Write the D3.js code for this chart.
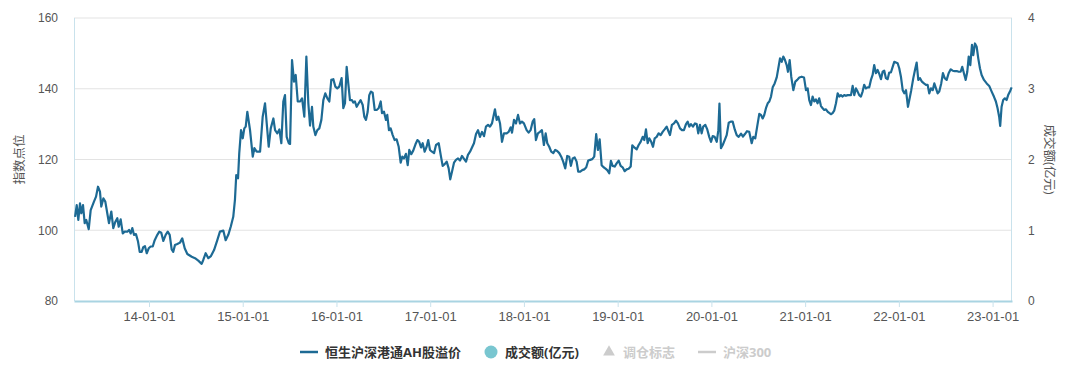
<!DOCTYPE html>
<html>
<head>
<meta charset="utf-8">
<script src="https://cdn.jsdelivr.net/npm/d3@7"></script>
<style>
  body { margin: 0; background: #fff; }
  svg { display: block; font-family: "Open Sans", "Noto Sans CJK SC", sans-serif; }
</style>
</head>
<body>
<div id="chart"></div>
<script>
// time as decimal years
const times = [
  2013.211, 2013.229, 2013.246, 2013.264, 2013.278, 2013.296, 2013.314, 2013.331, 2013.357, 2013.378,
  2013.413, 2013.435, 2013.456, 2013.477, 2013.491, 2013.513, 2013.534, 2013.555, 2013.573, 2013.598,
  2013.619, 2013.641, 2013.662, 2013.677, 2013.698, 2013.720, 2013.741, 2013.769, 2013.787, 2013.805,
  2013.822, 2013.840, 2013.861, 2013.883, 2013.901, 2013.922, 2013.939, 2013.957, 2013.976, 2013.997,
  2014.018, 2014.040, 2014.061, 2014.089, 2014.110, 2014.131, 2014.153, 2014.178, 2014.200, 2014.221,
  2014.242, 2014.259, 2014.277, 2014.302, 2014.331, 2014.355, 2014.381, 2014.409, 2014.456, 2014.491,
  2014.526, 2014.562, 2014.579, 2014.605, 2014.633, 2014.661, 2014.694, 2014.729, 2014.757, 2014.793,
  2014.818, 2014.846, 2014.872, 2014.899, 2014.917, 2014.931, 2014.950, 2014.963, 2014.982, 2015.000,
  2015.017, 2015.032, 2015.049, 2015.078, 2015.107, 2015.124, 2015.149, 2015.185, 2015.213, 2015.238,
  2015.256, 2015.277, 2015.299, 2015.327, 2015.345, 2015.369, 2015.391, 2015.412, 2015.433, 2015.451,
  2015.469, 2015.491, 2015.505, 2015.526, 2015.547, 2015.565, 2015.587, 2015.611, 2015.633, 2015.657,
  2015.679, 2015.700, 2015.718, 2015.739, 2015.753, 2015.775, 2015.796, 2015.817, 2015.839, 2015.860,
  2015.881, 2015.903, 2015.924, 2015.945, 2015.967, 2015.988, 2016.009, 2016.030, 2016.055, 2016.073,
  2016.091, 2016.109, 2016.126, 2016.144, 2016.165, 2016.179, 2016.197, 2016.216, 2016.237, 2016.258,
  2016.280, 2016.297, 2016.315, 2016.333, 2016.350, 2016.368, 2016.386, 2016.408, 2016.429, 2016.450,
  2016.472, 2016.486, 2016.507, 2016.528, 2016.542, 2016.560, 2016.578, 2016.600, 2016.621, 2016.642,
  2016.664, 2016.685, 2016.702, 2016.720, 2016.741, 2016.760, 2016.777, 2016.798, 2016.819, 2016.843,
  2016.864, 2016.883, 2016.902, 2016.920, 2016.941, 2016.962, 2016.979, 2016.998, 2017.019, 2017.041,
  2017.062, 2017.091, 2017.112, 2017.133, 2017.155, 2017.176, 2017.197, 2017.214, 2017.233, 2017.254,
  2017.275, 2017.297, 2017.318, 2017.339, 2017.361, 2017.382, 2017.403, 2017.425, 2017.446, 2017.467,
  2017.489, 2017.510, 2017.531, 2017.553, 2017.574, 2017.595, 2017.617, 2017.638, 2017.659, 2017.691,
  2017.709, 2017.727, 2017.745, 2017.766, 2017.787, 2017.816, 2017.837, 2017.859, 2017.873, 2017.894,
  2017.915, 2017.937, 2017.958, 2017.979, 2018.000, 2018.029, 2018.050, 2018.071, 2018.093, 2018.110,
  2018.128, 2018.149, 2018.171, 2018.192, 2018.213, 2018.232, 2018.249, 2018.270, 2018.291, 2018.313,
  2018.334, 2018.355, 2018.377, 2018.398, 2018.419, 2018.441, 2018.462, 2018.483, 2018.501, 2018.520,
  2018.541, 2018.562, 2018.579, 2018.601, 2018.622, 2018.643, 2018.665, 2018.686, 2018.707, 2018.729,
  2018.750, 2018.771, 2018.789, 2018.808, 2018.829, 2018.850, 2018.867, 2018.889, 2018.910, 2018.928,
  2018.946, 2018.968, 2018.989, 2019.011, 2019.032, 2019.053, 2019.075, 2019.096, 2019.117, 2019.139,
  2019.156, 2019.177, 2019.203, 2019.224, 2019.245, 2019.267, 2019.284, 2019.302, 2019.320, 2019.337,
  2019.358, 2019.377, 2019.395, 2019.416, 2019.437, 2019.459, 2019.480, 2019.501, 2019.523, 2019.544,
  2019.558, 2019.579, 2019.601, 2019.622, 2019.643, 2019.665, 2019.686, 2019.707, 2019.729, 2019.747,
  2019.764, 2019.782, 2019.803, 2019.825, 2019.843, 2019.860, 2019.878, 2019.896, 2019.913, 2019.935,
  2019.956, 2019.977, 2019.996, 2020.014, 2020.035, 2020.057, 2020.074, 2020.086, 2020.102, 2020.121,
  2020.142, 2020.163, 2020.185, 2020.206, 2020.227, 2020.249, 2020.270, 2020.291, 2020.316, 2020.337,
  2020.358, 2020.380, 2020.404, 2020.430, 2020.447, 2020.468, 2020.494, 2020.511, 2020.529, 2020.547,
  2020.564, 2020.582, 2020.601, 2020.618, 2020.636, 2020.654, 2020.675, 2020.697, 2020.714, 2020.732,
  2020.750, 2020.767, 2020.785, 2020.803, 2020.817, 2020.835, 2020.852, 2020.874, 2020.895, 2020.916,
  2020.938, 2020.963, 2020.988, 2021.009, 2021.027, 2021.044, 2021.062, 2021.080, 2021.097, 2021.115,
  2021.133, 2021.150, 2021.169, 2021.187, 2021.204, 2021.222, 2021.240, 2021.257, 2021.275, 2021.293,
  2021.310, 2021.329, 2021.347, 2021.364, 2021.382, 2021.400, 2021.417, 2021.435, 2021.453, 2021.470,
  2021.489, 2021.507, 2021.524, 2021.542, 2021.560, 2021.577, 2021.595, 2021.613, 2021.630, 2021.649,
  2021.667, 2021.684, 2021.702, 2021.720, 2021.737, 2021.755, 2021.773, 2021.791, 2021.809, 2021.827,
  2021.844, 2021.862, 2021.880, 2021.897, 2021.915, 2021.934, 2021.951, 2021.969, 2021.987, 2022.004,
  2022.022, 2022.041, 2022.058, 2022.076, 2022.097, 2022.115, 2022.132, 2022.154, 2022.172, 2022.190,
  2022.207, 2022.225, 2022.246, 2022.268, 2022.289, 2022.307, 2022.324, 2022.342, 2022.361, 2022.378,
  2022.396, 2022.414, 2022.431, 2022.452, 2022.470, 2022.489, 2022.510, 2022.531, 2022.553, 2022.574,
  2022.595, 2022.617, 2022.638, 2022.659, 2022.676, 2022.694, 2022.713, 2022.730, 2022.745, 2022.762,
  2022.780, 2022.794, 2022.812, 2022.830, 2022.847, 2022.865, 2022.883, 2022.908, 2022.937, 2022.964,
  2022.990, 2023.014, 2023.035, 2023.053, 2023.070, 2023.081, 2023.096, 2023.113, 2023.131, 2023.149,
  2023.166, 2023.185, 2023.203
];

// 恒生沪深港通AH股溢价
const premium = [
  103.8, 107.1, 102.9, 107.6, 104.8, 107.1, 102.0, 102.9, 100.3, 105.7,
  108.1, 109.5, 112.3, 110.9, 106.7, 109.0, 108.1, 104.8, 102.0, 105.3,
  100.6, 102.4, 103.4, 101.0, 103.1, 99.1, 99.6, 99.6, 100.1, 99.1,
  100.6, 98.7, 98.9, 96.8, 93.9, 93.9, 95.2, 95.5, 93.5, 94.9,
  95.4, 95.4, 97.2, 98.7, 99.6, 99.3, 97.0, 98.7, 99.6, 98.7,
  94.6, 93.9, 95.8, 96.1, 96.5, 97.7, 94.9, 93.3, 92.5, 92.1,
  91.4, 90.5, 91.6, 93.5, 92.1, 92.7, 94.4, 97.2, 99.6, 99.9,
  97.2, 98.7, 101.0, 103.8, 108.6, 115.6, 114.7, 121.8, 128.3, 126.0,
  128.8, 129.3, 133.5, 128.3, 120.8, 123.2, 122.2, 122.2, 132.1, 135.9,
  130.2, 123.6, 128.8, 131.6, 128.3, 127.4, 128.5, 124.6, 136.4, 138.2,
  126.4, 124.6, 124.4, 148.1, 142.0, 143.9, 136.4, 136.4, 137.3, 132.1,
  149.1, 135.9, 129.6, 134.9, 129.3, 126.9, 128.3, 128.8, 131.2, 136.8,
  138.7, 137.3, 136.4, 142.5, 142.7, 140.6, 140.1, 140.6, 143.0, 134.5,
  135.9, 146.2, 141.5, 136.8, 136.8, 136.1, 136.4, 134.9, 135.9, 136.8,
  135.4, 132.1, 131.2, 133.5, 138.2, 139.2, 138.9, 134.0, 134.0, 134.5,
  136.4, 133.1, 133.5, 131.2, 132.6, 128.3, 128.8, 126.9, 125.5, 125.7,
  123.6, 119.1, 120.8, 120.3, 121.6, 118.4, 122.7, 121.5, 122.5, 124.3,
  125.5, 125.0, 123.4, 124.6, 122.2, 123.6, 125.5, 122.7, 122.2, 121.8,
  124.1, 124.6, 121.3, 118.2, 118.7, 119.4, 117.5, 114.4, 116.6, 119.1,
  119.9, 120.3, 119.7, 121.0, 120.2, 119.4, 121.3, 122.2, 123.4, 124.6,
  127.2, 128.3, 126.4, 127.8, 126.6, 129.3, 129.8, 129.3, 130.2, 134.2,
  131.2, 132.1, 130.2, 125.0, 127.4, 127.4, 127.8, 129.1, 127.6, 131.2,
  130.2, 132.6, 130.2, 130.7, 130.2, 128.3, 127.6, 128.3, 130.7, 131.4,
  125.5, 127.4, 127.8, 128.3, 124.1, 127.4, 124.6, 123.6, 122.2, 121.8,
  122.7, 122.4, 121.8, 120.8, 119.4, 117.5, 121.0, 120.8, 118.2, 120.3,
  120.6, 119.4, 116.6, 116.6, 117.0, 117.2, 117.8, 119.7, 119.9, 120.1,
  120.8, 127.2, 122.7, 125.7, 118.4, 117.8, 117.5, 117.0, 116.1, 119.6,
  118.2, 118.0, 118.9, 119.7, 118.2, 117.8, 116.7, 117.2, 117.4, 118.0,
  124.0, 123.4, 122.9, 124.1, 125.0, 126.4, 125.5, 128.5, 124.6, 126.0,
  125.0, 123.6, 126.0, 126.4, 127.4, 126.9, 127.8, 128.5, 129.3, 127.8,
  126.9, 129.8, 130.2, 131.0, 130.2, 128.8, 128.3, 128.3, 130.0, 130.7,
  129.3, 130.0, 129.3, 130.2, 130.0, 127.4, 129.8, 127.4, 129.3, 129.8,
  128.5, 126.4, 125.0, 126.6, 126.4, 125.0, 128.3, 135.8, 123.2, 124.1,
  125.5, 126.9, 130.4, 130.7, 130.7, 128.5, 126.9, 126.4, 127.3, 126.5,
  127.2, 128.0, 127.8, 124.6, 126.4, 126.0, 130.2, 132.9, 132.6, 131.6,
  132.6, 134.5, 135.9, 136.4, 137.8, 140.4, 141.5, 143.2, 145.8, 148.6,
  147.6, 149.1, 148.1, 146.7, 144.8, 148.1, 143.4, 139.6, 142.0, 142.5,
  143.2, 143.4, 143.2, 139.6, 140.1, 136.8, 135.4, 137.8, 136.4, 137.0,
  135.9, 137.3, 135.1, 134.5, 134.0, 134.2, 133.5, 133.2, 132.8, 133.1,
  133.8, 135.9, 138.7, 137.8, 138.2, 137.8, 138.2, 138.0, 138.2, 138.2,
  138.2, 140.8, 138.2, 140.1, 139.2, 138.2, 137.8, 139.2, 141.1, 140.1,
  140.4, 140.4, 142.5, 143.9, 146.7, 144.4, 145.3, 144.2, 142.7, 144.8,
  145.1, 143.0, 142.7, 144.6, 144.6, 146.2, 147.6, 147.4, 147.2, 145.8,
  143.4, 139.6, 138.7, 139.6, 134.9, 137.3, 139.6, 143.0, 145.3, 147.4,
  142.5, 143.0, 142.0, 141.5, 141.1, 141.1, 138.7, 140.1, 139.6, 141.5,
  140.1, 138.7, 139.2, 141.5, 144.4, 143.0, 142.5, 144.4, 145.5, 145.1,
  145.0, 145.0, 144.8, 144.8, 146.2, 144.4, 142.5, 144.8, 149.1, 146.7,
  152.4, 149.5, 152.8, 151.9, 148.6, 145.8, 143.9, 142.5, 141.5, 140.8,
  139.2, 137.8, 136.4, 134.5, 132.1, 129.5, 134.9, 136.8, 137.3, 136.8,
  138.2, 139.2, 140.4
];

const yTicks = [80, 100, 120, 140, 160];
const y2Ticks = [0, 1, 2, 3, 4];
const xTickYears = [2014, 2015, 2016, 2017, 2018, 2019, 2020, 2021, 2022, 2023];
const xTickLabels = ["14-01-01", "15-01-01", "16-01-01", "17-01-01", "18-01-01",
  "19-01-01", "20-01-01", "21-01-01", "22-01-01", "23-01-01"];

const legendItems = [
  { name: "恒生沪深港通AH股溢价", type: "line", color: "#1d6a94", text: "#333" },
  { name: "成交额(亿元)", type: "circle", color: "#79c6d0", text: "#333" },
  { name: "调仓标志", type: "triangle", color: "#cccccc", text: "#cccccc" },
  { name: "沪深300", type: "line", color: "#cccccc", text: "#cccccc" }
];

const width = 1080, height = 373;
const margin = { top: 18, right: 68, bottom: 72, left: 74 };
const lineColor = "#1d6a94";
const edgeColor = "#a9d4e2";

const svg = d3.select("#chart").append("svg")
  .attr("width", width)
  .attr("height", height);

const x = d3.scaleLinear()
  .domain([2013.200, 2023.207])
  .range([margin.left, width - margin.right]);

const y = d3.scaleLinear()
  .domain([80, 160])
  .range([height - margin.bottom, margin.top]);

const y2 = d3.scaleLinear()
  .domain([0, 4])
  .range([height - margin.bottom, margin.top]);

// gridlines
svg.append("g")
  .selectAll("line")
  .data(yTicks.filter(d => d !== 80))
  .enter().append("line")
  .attr("x1", margin.left)
  .attr("x2", width - margin.right)
  .attr("y1", d => y(d))
  .attr("y2", d => y(d))
  .attr("stroke", "#e3e3e3")
  .attr("stroke-width", 1);

// left / right borders
svg.append("line")
  .attr("x1", margin.left + 0.5).attr("x2", margin.left + 0.5)
  .attr("y1", margin.top).attr("y2", height - margin.bottom)
  .attr("stroke", "#c9e2ec");
svg.append("line")
  .attr("x1", width - margin.right - 0.5).attr("x2", width - margin.right - 0.5)
  .attr("y1", margin.top).attr("y2", height - margin.bottom)
  .attr("stroke", "#c9e2ec");

// left axis
const yAxis = svg.append("g")
  .attr("transform", `translate(${margin.left},0)`)
  .call(d3.axisLeft(y).tickValues(yTicks).tickSize(0).tickPadding(16));
yAxis.select(".domain").remove();
yAxis.selectAll("text")
  .attr("fill", "#555")
  .style("font-size", "12px");

// right axis
const y2Axis = svg.append("g")
  .attr("transform", `translate(${width - margin.right},0)`)
  .call(d3.axisRight(y2).tickValues(y2Ticks).tickFormat(d3.format("d")).tickSize(0).tickPadding(16));
y2Axis.select(".domain").remove();
y2Axis.selectAll("text")
  .attr("fill", "#555")
  .style("font-size", "12px");

// bottom axis
const xAxis = svg.append("g")
  .attr("transform", `translate(0,${height - margin.bottom})`)
  .call(d3.axisBottom(x)
    .tickValues(xTickYears)
    .tickFormat((d, i) => xTickLabels[i])
    .tickSize(6)
    .tickPadding(5)
    .tickSizeOuter(0));
xAxis.select(".domain")
  .attr("stroke", edgeColor)
  .attr("stroke-width", 2);
xAxis.selectAll(".tick line").attr("stroke", "#c9e2ec");
xAxis.selectAll("text")
  .attr("fill", "#555")
  .style("font-size", "13px");

// axis titles
svg.append("text")
  .attr("transform", `translate(24,${(margin.top + height - margin.bottom) / 2}) rotate(-90)`)
  .attr("text-anchor", "middle")
  .attr("fill", "#555")
  .style("font-size", "12.5px")
  .text("指数点位");

svg.append("text")
  .attr("transform", `translate(1045,${(margin.top + height - margin.bottom) / 2}) rotate(90)`)
  .attr("text-anchor", "middle")
  .attr("fill", "#555")
  .style("font-size", "12.5px")
  .text("成交额(亿元)");

// premium line
const data = times.map((t, i) => ({ t: t, v: premium[i] }));
const line = d3.line()
  .x(d => x(d.t))
  .y(d => y(d.v));

svg.append("path")
  .datum(data)
  .attr("fill", "none")
  .attr("stroke", lineColor)
  .attr("stroke-width", 2.2)
  .attr("stroke-linejoin", "round")
  .attr("d", line);

// legend
const legendX = [300, 483, 601, 698];
const legend = svg.append("g").attr("transform", "translate(0,352)");
legendItems.forEach((item, i) => {
  const g = legend.append("g").attr("transform", `translate(${legendX[i]},0)`);
  if (item.type === "line") {
    g.append("line")
      .attr("x1", 0).attr("x2", 18)
      .attr("y1", 0).attr("y2", 0)
      .attr("stroke", item.color)
      .attr("stroke-width", 2.5);
  } else if (item.type === "circle") {
    g.append("circle")
      .attr("cx", 8).attr("cy", 0).attr("r", 6.5)
      .attr("fill", item.color);
  } else {
    g.append("path")
      .attr("d", d3.symbol().type(d3.symbolTriangle).size(60))
      .attr("transform", "translate(8,0)")
      .attr("fill", item.color);
  }
  g.append("text")
    .attr("x", item.type === "line" ? 25 : 22)
    .attr("y", 0)
    .attr("dy", "0.35em")
    .attr("fill", item.text)
    .style("font-size", "13px")
    .style("font-weight", "bold")
    .text(item.name);
});
</script>
</body>
</html>
